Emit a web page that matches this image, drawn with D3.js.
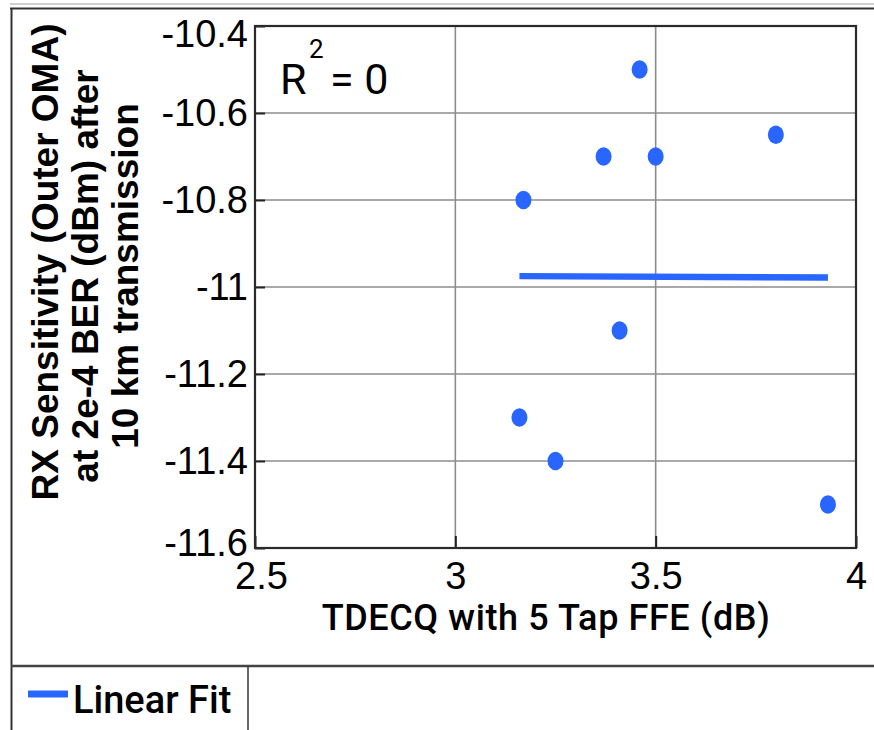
<!DOCTYPE html>
<html>
<head>
<meta charset="utf-8">
<script src="https://cdn.jsdelivr.net/npm/d3@7/dist/d3.min.js"></script>
<style>
  html, body { margin: 0; padding: 0; background: #fff; }
  svg { display: block; }
</style>
</head>
<body>
<div id="chart"></div>
<script>
// TDECQ (dB) of each transmitter and its RX sensitivity after 10 km
const tdecq = [3.46, 3.37, 3.50, 3.80, 3.17, 3.41, 3.16, 3.25, 3.93];
const sensitivity = [-10.5, -10.7, -10.7, -10.65, -10.8, -11.1, -11.3, -11.4, -11.5];

// Least-squares line across the measured TDECQ span
const fitX = [3.16, 3.93];
const fitY = [-10.975, -10.978];

const xTicks = [2.5, 3, 3.5, 4];
const yTicks = [-10.4, -10.6, -10.8, -11, -11.2, -11.4, -11.6];

const rSquaredText = "0";
const xTitle = "TDECQ with 5 Tap FFE (dB)";
const yTitleLines = ["RX Sensitivity (Outer OMA)", "at 2e-4 BER (dBm) after", "10 km transmission"];
const legendLabel = "Linear Fit";

const W = 874, H = 730;
const plot = { left: 255, right: 856, top: 26, bottom: 548 };
const blue = "#2866ff";

const svg = d3.select("#chart").append("svg")
  .attr("width", W).attr("height", H);

const x = d3.scaleLinear().domain([2.5, 4]).range([plot.left, plot.right]);
const y = d3.scaleLinear().domain([-11.6, -10.4]).range([plot.bottom, plot.top]);

// Outer frame of the figure panel
const frame = svg.append("g").attr("fill", "none");
frame.append("line").attr("x1", 10).attr("x2", W).attr("y1", 4).attr("y2", 4)
  .attr("stroke", "#cfcfcf").attr("stroke-width", 2);
frame.append("line").attr("x1", 10).attr("x2", W).attr("y1", 8.5).attr("y2", 8.5)
  .attr("stroke", "#333").attr("stroke-width", 2);
frame.append("line").attr("x1", 11.5).attr("x2", 11.5).attr("y1", 8).attr("y2", H)
  .attr("stroke", "#333").attr("stroke-width", 2);
frame.append("line").attr("x1", 11).attr("x2", W).attr("y1", 666).attr("y2", 666)
  .attr("stroke", "#444").attr("stroke-width", 2.5);
frame.append("line").attr("x1", 248).attr("x2", 248).attr("y1", 666).attr("y2", H)
  .attr("stroke", "#333").attr("stroke-width", 1.5);

// Grid
const grid = svg.append("g").attr("stroke", "#8c8c8c").attr("stroke-width", 1.6);
grid.selectAll("line.gx").data(xTicks.filter(d => d > 2.5 && d < 4)).join("line")
  .attr("x1", d => x(d)).attr("x2", d => x(d))
  .attr("y1", plot.top).attr("y2", plot.bottom);
grid.selectAll("line.gy").data(yTicks.filter(d => d > -11.6 && d < -10.4)).join("line")
  .attr("x1", plot.left).attr("x2", plot.right)
  .attr("y1", d => y(d)).attr("y2", d => y(d));

// Axes with inward ticks
const plain = d => String(d);
const yAxis = svg.append("g")
  .attr("transform", `translate(${plot.left},0)`)
  .call(d3.axisLeft(y).tickValues(yTicks).tickFormat(plain).tickSize(-10).tickPadding(7));
const xAxis = svg.append("g")
  .attr("transform", `translate(0,${plot.bottom})`)
  .call(d3.axisBottom(x).tickValues(xTicks).tickFormat(plain).tickSize(-12).tickPadding(14));

[yAxis, xAxis].forEach(g => {
  g.select(".domain").remove();
  g.selectAll(".tick line").attr("stroke", "#222").attr("stroke-width", 2);
  g.selectAll(".tick text")
    .attr("fill", "#000")
    .style("font-family", "'Liberation Sans', Arial, sans-serif")
    .style("font-size", "38px");
});
// keep the end labels inside the panel
yAxis.selectAll(".tick text")
  .attr("y", d => Math.min(Math.max(y(d), plot.top + 8), plot.bottom - 5) - y(d));
xAxis.selectAll(".tick text")
  .attr("x", d => d === 2.5 ? 6 : 0);

// Plot frame
svg.append("rect")
  .attr("x", plot.left).attr("y", plot.top)
  .attr("width", plot.right - plot.left).attr("height", plot.bottom - plot.top)
  .attr("fill", "none").attr("stroke", "#2a2a2a").attr("stroke-width", 2.2);

// Fit line
svg.append("path")
  .datum(fitX.map((v, i) => [v, fitY[i]]))
  .attr("d", d3.line().x(d => x(d[0])).y(d => y(d[1])))
  .attr("fill", "none").attr("stroke", blue).attr("stroke-width", 6.5);

// Measured points
svg.append("g").selectAll("ellipse")
  .data(tdecq.map((v, i) => [v, sensitivity[i]]))
  .join("ellipse")
  .attr("cx", d => x(d[0])).attr("cy", d => y(d[1]))
  .attr("rx", 8).attr("ry", 9.3)
  .attr("fill", blue);

// R-squared annotation
const ann = svg.append("g").attr("fill", "#000")
  .style("font-family", "Roboto, sans-serif");
ann.append("text").attr("x", 280).attr("y", 94).style("font-size", "43px").text("R");
ann.append("text").attr("x", 309).attr("y", 58).style("font-size", "26px").text("2");
ann.append("text").attr("x", 330).attr("y", 94).style("font-size", "43px").text("= " + rSquaredText);

// Axis titles
svg.append("text")
  .attr("x", 546).attr("y", 630)
  .attr("text-anchor", "middle")
  .style("font-family", "Roboto, sans-serif").style("font-weight", 500)
  .style("font-size", "36px").style("letter-spacing", "0.6px").attr("fill", "#000")
  .text(xTitle);

const yTitle = svg.append("text")
  .attr("transform", "rotate(-90)")
  .attr("text-anchor", "middle")
  .style("font-family", "'Liberation Sans', Arial, sans-serif").style("font-weight", 700)
  .style("font-size", "37px").attr("fill", "#000");
const yTitleCenters = [-262, -276, -276];
yTitleLines.forEach((t, i) => {
  yTitle.append("tspan").attr("x", yTitleCenters[i]).attr("y", 58 + i * 40).text(t);
});

// Legend
const legend = svg.append("g");
legend.append("line").attr("x1", 28).attr("x2", 68).attr("y1", 694).attr("y2", 694)
  .attr("stroke", blue).attr("stroke-width", 7);
legend.append("text").attr("x", 73).attr("y", 713)
  .style("font-family", "Roboto, sans-serif").style("font-weight", 500)
  .style("font-size", "38px").attr("fill", "#000")
  .text(legendLabel);
</script>
</body>
</html>
